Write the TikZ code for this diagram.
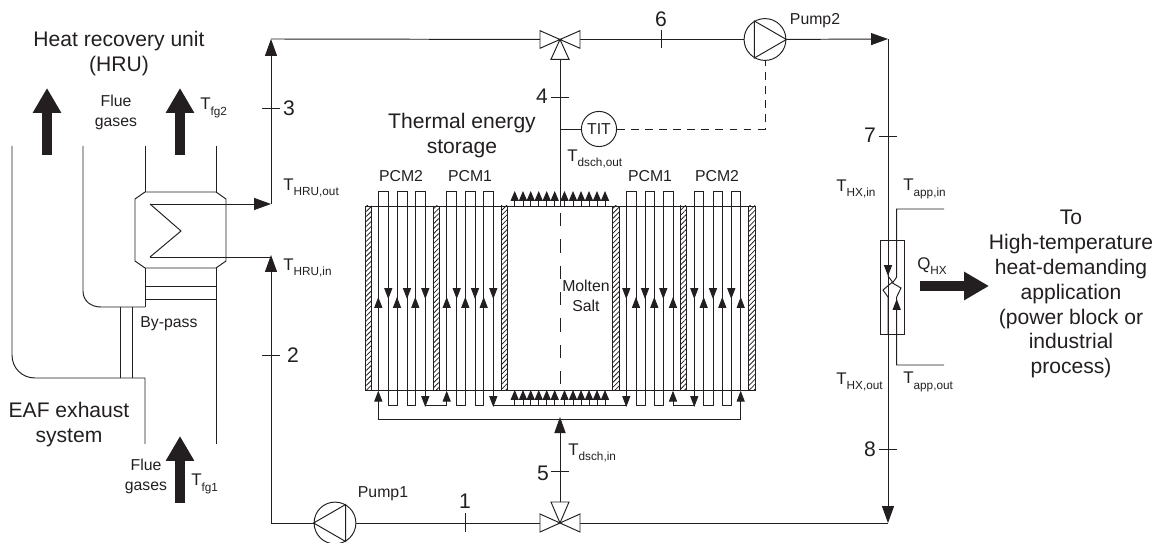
\documentclass[tikz,border=0pt]{standalone}
\usepackage{xcolor}
\usepackage{fontspec}
\setmainfont{Liberation Sans}
\usetikzlibrary{arrows.meta, positioning, calc, patterns.meta}
\definecolor{linedark}{RGB}{35, 31, 32}
\newcommand{\Tsub}[2]{#1{\fontsize{6.7}{7}\selectfont\raisebox{-3.2pt}{#2}}}
\tikzset{
    pipe/.style={draw=linedark, line width=0.55pt},
    headbig/.style={pipe, -{Triangle[length=9.6pt,width=6.8pt]}},
    headmid/.style={pipe, -{Triangle[length=6.2pt,width=4.6pt]}},
    headtiny/.style={pipe, -{Triangle[length=5.6pt,width=4.6pt]}},
    flowarrow/.style={draw=linedark, line width=5.7pt, -{Triangle[length=14.2pt,width=15.3pt]}},
    wall/.style={pipe, line width=0.45pt, pattern={Lines[angle=45,distance=2pt,line width=0.45pt]}, pattern color=linedark},
    pumpnode/.style={circle, pipe, fill=white, minimum size=23.8pt, inner sep=0pt},
    bigtext/.style={font=\fontsize{12}{14.2}\selectfont, text=linedark, inner sep=0pt, align=center},
    smalltext/.style={font=\fontsize{9}{11.3}\selectfont, text=linedark, inner sep=0pt, align=center},
    templabel/.style={font=\fontsize{9.6}{11}\selectfont, text=linedark, inner sep=0pt, anchor=west}
}
\begin{document}
\begin{tikzpicture}[x=0.02cm, y=-0.02cm]
    \useasboundingbox (0,0) rectangle (1154,543);

    % main loop
    \coordinate (topleft) at (271,39);
    \coordinate (topright) at (888,39);
    \coordinate (botleft) at (271,523);
    \coordinate (botright) at (888,523);
    \coordinate (valvetop) at (560,39.5);
    \coordinate (valvebot) at (560,523);
    \coordinate (hruout) at (150,204);
    \coordinate (hruin) at (150,257);
    \coordinate (hruzig) at (181,231);
    \node[pumpnode] (pump2) at (765,39.5) {};
    \node[pumpnode] (pump1) at (335,523) {};
    \node[pumpnode, minimum size=20pt, font=\fontsize{9}{11}\selectfont, text=linedark] (tit) at (599,129) {TIT};

    \draw[headbig] (hruout) -- (hruout -| topleft);
    \draw[headbig] (hruout -| topleft) -- (topleft);
    \draw[pipe] (topleft) -- (valvetop);
    \draw[pipe] (valvetop) -- (pump2);
    \draw[headbig] (pump2) -- (topright);
    \draw[headbig] (topright) -- (botright);
    \draw[pipe] (botright) -- (valvebot);
    \draw[pipe] (valvebot) -- (pump1);
    \draw[pipe] (pump1) -- (botleft);
    \draw[headbig] (botleft) -- (271,255);
    \draw[pipe] (271,257) -- (hruin);
    \draw[pipe] (hruout) -- (hruzig) -- (hruin);

    % pumps
    \draw[pipe] (pump2.east) -- (pump2.120) -- (pump2.240) -- cycle;
    \draw[pipe] (pump1.west) -- (pump1.60) -- (pump1.300) -- cycle;

    % valves
    \draw[pipe, fill=white] (valvetop) -- (540,30.7) -- (540,48.3) -- cycle;
    \draw[pipe, fill=white] (valvetop) -- (580,30.7) -- (580,48.3) -- cycle;
    \draw[pipe, fill=white] (valvetop) -- (551,59.3) -- (569,59.3) -- cycle;
    \draw[pipe, fill=white] (valvebot) -- (540,514) -- (540,532) -- cycle;
    \draw[pipe, fill=white] (valvebot) -- (580,514) -- (580,532) -- cycle;
    \draw[pipe, fill=white] (valvebot) -- (551,502) -- (569,502) -- cycle;

    % central pipes
    \draw[pipe] (560,59.3) -- (560,206);
    \draw[pipe] (560,129) -- (tit);
    \draw[pipe, dash pattern=on 4.5pt off 3.5pt] (tit) -- (765,129) -- (pump2.south -| 765,0);
    \draw[pipe, -{Triangle[length=9.2pt,width=6.4pt]}] (560,502) -- (560,417);
    \draw[pipe, dash pattern=on 7.5pt off 7.5pt] (560,213) -- (560,390);

    % storage walls and frame
    \foreach \x in {365,433,501,612.3,680,748.5}
        \draw[wall] (\x,206) rectangle ++(6.6,184.7);
    \draw[pipe] (365,206) -- (755,206);
    \draw[pipe] (365,390.7) -- (755,390.7);

    % tubes, top bends and inner arrows
    \foreach \a/\b in {378.3/388.3,397/407,415.3/425.3,446.7/456.7,465.3/475,483.7/493.3}{
        \draw[pipe] (\a,390.7) -- (\a,191) -- (\b,191) -- (\b,390.7);
        \draw[headmid] (\a,310) -- (\a,297);
        \draw[headmid] (\b,286) -- (\b,299);
    }
    \foreach \a/\b in {626.3/636,645/654.3,663.3/673,694.3/703.7,713/722.3,731.3/740.7}{
        \draw[pipe] (\b,390.7) -- (\b,191) -- (\a,191) -- (\a,390.7);
        \draw[headmid] (\a,286) -- (\a,299);
        \draw[headmid] (\b,310) -- (\b,297);
    }
    % bottom bends
    \foreach \a/\b in {388.3/397,407/415.3,456.7/465.3,475/483.7,636/645,654.3/663.3,703.7/713,722.3/731.3}
        \draw[pipe] (\a,390.7) -- (\a,405) -- (\b,405) -- (\b,390.7);
    \foreach \a/\b in {425.3/446.7,493.3/626.3,673/694.3}
        \draw[pipe] (\a,405) -- (\b,405);
    \foreach \x in {425.3,493.3,626.3,694.3}{
        \draw[pipe] (\x,390.7) -- (\x,394);
        \draw[headmid] (\x,394) -- (\x,407);
    }
    \foreach \x in {446.7,673}{
        \draw[pipe] (\x,405) -- (\x,402);
        \draw[headmid] (\x,405) -- (\x,390.7);
    }
    \draw[pipe] (378.3,405) -- (378.3,419) -- (740.7,419) -- (740.7,405);
    \foreach \x in {378.3,740.7}
        \draw[headmid] (\x,405) -- (\x,390.7);
    \foreach \x in {514.7,523,530.7,538.7,546.7,554.7,564.5,573,581,589,597,605}{
        \draw[headtiny] (\x,206) -- (\x,191);
        \draw[headtiny] (\x,405) -- (\x,390);
    }
    \draw[pipe] (755,206) -- (755,390.7);

    % heat recovery unit
    \draw[pipe] (145,192) -- (216,192) -- (226,199) -- (226,261) -- (216,268) -- (145,268) -- (135,261) -- (135,199) -- cycle;
    \draw[pipe] (145,146) -- (145,192);
    \draw[pipe] (216,146) -- (216,192);
    \draw[pipe] (216,268) -- (216,444);
    \draw[pipe] (145,268) -- (145,307);
    \draw[pipe] (145,286) -- (216,286);
    \draw[pipe] (145,299) -- (216,299);
    \draw[pipe] (83,146) -- (83,291) .. controls (83,301) and (91,307) .. (101,307) -- (145,307);
    \draw[pipe] (12,146) -- (12,355) .. controls (12,368) and (22,378) .. (35,378) -- (145,378) -- (145,444);
    \draw[pipe] (120,307) -- (120,378);
    \draw[pipe] (132,307) -- (132,378);
    \draw[flowarrow] (47,155) -- (47,88);
    \draw[flowarrow] (180,155) -- (180,88);
    \draw[flowarrow] (180,503) -- (180,436);

    % heat exchanger
    \draw[pipe] (880,240.3) rectangle (904.3,334);
    \draw[pipe] (888,263) -- (888,200);
    \draw[headmid] (888,263) -- (888,276);
    \draw[pipe] (888,276) -- (892.5,282) -- (883,290) -- (888,297) -- (888,334);
    \draw[pipe] (944,209) -- (896.7,209) -- (896.7,277) -- (892.5,283) -- (901,288) -- (896.7,297) -- (896.7,365) -- (944,365);
    \draw[headmid] (896.7,312) -- (896.7,299);
    \draw[flowarrow] (920,286) -- (989,286);

    % ticks
    \draw[pipe] (262,108) -- (280,108);
    \draw[pipe] (262,355.7) -- (280,355.7);
    \draw[pipe] (551,97.7) -- (569,97.7);
    \draw[pipe] (551,471) -- (569,471);
    \draw[pipe] (661,30) -- (661,48);
    \draw[pipe] (465.7,513) -- (465.7,532);
    \draw[pipe] (879,136) -- (897,136);
    \draw[pipe] (879,449) -- (897,449);

    % labels
    \node[bigtext] (titlehru) at (119,53.5) {Heat recovery unit\\(HRU)};
    \node[smalltext] (fluetop) at (116,112) {Flue\\gases};
    \node[smalltext] (fluebot) at (146,476) {Flue\\gases};
    \node[smalltext] (bypass) at (169,324) {By-pass};
    \node[bigtext] (eaf) at (69,424.5) {EAF exhaust\\system};
    \node[bigtext] (tes) at (462,135.5) {Thermal energy\\storage};
    \node[smalltext] (pcmA) at (401,176) {PCM2};
    \node[smalltext] (pcmB) at (470,176) {PCM1};
    \node[smalltext] (pcmC) at (650,176) {PCM1};
    \node[smalltext] (pcmD) at (717,176) {PCM2};
    \node[smalltext] (salt) at (586,296) {Molten\\Salt};
    \node[smalltext] (pumpone) at (383,494) {Pump1};
    \node[smalltext] (pumptwo) at (815,21) {Pump2};
    \node[bigtext] (numone) at (465,501) {1};
    \node[bigtext] (numtwo) at (293,355) {2};
    \node[bigtext] (numthree) at (289,108) {3};
    \node[bigtext] (numfour) at (542,96) {4};
    \node[bigtext] (numfive) at (543,473) {5};
    \node[bigtext] (numsix) at (661,19) {6};
    \node[bigtext] (numseven) at (870,135) {7};
    \node[bigtext] (numeight) at (870,449) {8};
    \node[templabel] (tfgtwo) at (200,108) {\Tsub{T}{fg2}};
    \node[templabel] (tfgone) at (191,484) {\Tsub{T}{fg1}};
    \node[templabel] (thruout) at (283,188) {\Tsub{T}{HRU,out}};
    \node[templabel] (thruin) at (283,268) {\Tsub{T}{HRU,in}};
    \node[templabel] (tdschout) at (567,159) {\Tsub{T}{dsch,out}};
    \node[templabel] (tdschin) at (568,453) {\Tsub{T}{dsch,in}};
    \node[templabel] (thxin) at (836,189) {\Tsub{T}{HX,in}};
    \node[templabel] (tappin) at (903,189) {\Tsub{T}{app,in}};
    \node[templabel] (thxout) at (836,382) {\Tsub{T}{HX,out}};
    \node[templabel] (tappout) at (903,382) {\Tsub{T}{app,out}};
    \node[templabel] (qhx) at (917,266) {\Tsub{Q}{HX}};
    \node[bigtext] (sink) at (1071,294) {To\\High-temperature\\heat-demanding\\application\\(power block or\\industrial\\process)};
\end{tikzpicture}
\end{document}
